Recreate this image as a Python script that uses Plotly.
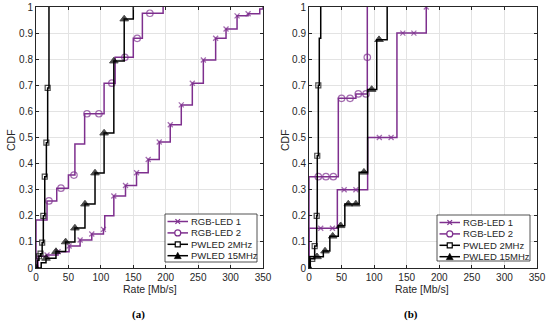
import plotly.graph_objects as go

# ---------------- data ----------------
# Panel (a)
a_rgb1_x = [0, 3, 17, 34, 51, 68, 86, 104, 106, 120, 138, 155, 173, 190, 207, 224, 241, 258, 277, 293, 310, 327, 345, 350]
a_rgb1_y = [0, 0.045, 0.05, 0.062, 0.084, 0.107, 0.13, 0.148, 0.2, 0.276, 0.316, 0.365, 0.416, 0.483, 0.549, 0.625, 0.708, 0.797, 0.88, 0.916, 0.966, 0.974, 0.992, 1.0]
a_rgb2_x = [0, 0, 17, 20, 32, 38.5, 50, 58.5, 60, 75, 78.6, 97, 105, 117, 122, 137, 150, 156, 164, 175.6, 196]
a_rgb2_y = [0, 0.184, 0.257, 0.257, 0.306, 0.306, 0.356, 0.356, 0.475, 0.591, 0.591, 0.591, 0.708, 0.708, 0.807, 0.807, 0.88, 0.88, 0.976, 0.976, 1.0]
a_pw2_x = [0, 2, 4.6, 7, 9.5, 11.3, 13.5, 16, 18, 20]
a_pw2_y = [0, 0.03, 0.045, 0.055, 0.097, 0.2, 0.35, 0.48, 0.69, 1.0]
a_pw15_x = [0, 8, 15.4, 30.8, 45.7, 60, 75.5, 91, 105, 120, 136, 150]
a_pw15_y = [0, 0.02, 0.037, 0.063, 0.1, 0.153, 0.245, 0.364, 0.517, 0.793, 0.954, 1.0]

# Panel (b)
b_rgb1_x = [0, 0, 18, 36, 43.5, 54, 72, 90, 108, 126, 135, 144, 161, 180]
b_rgb1_y = [0, 0.152, 0.152, 0.152, 0.3, 0.3, 0.3, 0.5, 0.5, 0.5, 0.9, 0.9, 0.9, 1.0]
b_rgb2_x = [0, 0, 14.3, 26, 37.3, 45, 50, 63, 72, 75.7, 87.5, 89.5, 89.5]
b_rgb2_y = [0, 0.35, 0.35, 0.35, 0.35, 0.65, 0.65, 0.65, 0.667, 0.667, 0.667, 0.807, 1.0]
b_pw2_x = [0, 2, 5, 8.7, 11.8, 12.7, 14.3, 15.8, 18]
b_pw2_y = [0, 0.035, 0.035, 0.084, 0.2, 0.43, 0.7, 0.88, 1.0]
b_pw15_x = [0, 1, 12.3, 22, 24.6, 32, 36.4, 45, 48.6, 55, 60.3, 72, 77, 84.3, 90, 96.2, 104, 107.5, 120]
b_pw15_y = [0, 0.043, 0.043, 0.065, 0.065, 0.122, 0.122, 0.162, 0.162, 0.245, 0.245, 0.245, 0.367, 0.367, 0.684, 0.684, 0.875, 0.875, 1.0]

series_names = ["RGB-LED 1", "RGB-LED 2", "PWLED 2MHz", "PWLED 15MHz"]
x_ticks = [0, 50, 100, 150, 200, 250, 300, 350]
y_ticks = [0, 0.1, 0.2, 0.3, 0.4, 0.5, 0.6, 0.7, 0.8, 0.9, 1]
y_tick_labels = ["0", "0.1", "0.2", "0.3", "0.4", "0.5", "0.6", "0.7", "0.8", "0.9", "1"]

# ---------------- style ----------------
PURPLE = "#7E2F8E"
BLACK = "#000000"
TXT = "#262626"
OFF = 0                      # body margin removed by post_script below
W, H = 550 - OFF, 323 - OFF


def px(x):
    return min(1.0, max(0.0, (x - OFF) / W))


def py(y):
    return min(1.0, max(0.0, 1 - (y - OFF) / H))


styles = [
    dict(color=PURPLE, symbol="x-thin-open", size=5, lw=1.3, fill=PURPLE),
    dict(color=PURPLE, symbol="circle-open", size=6.5, lw=1.2, fill=PURPLE),
    dict(color=BLACK, symbol="square-open", size=5, lw=1.2, fill=BLACK),
    dict(color=BLACK, symbol="triangle-up", size=7.5, lw=1, fill=BLACK),
]
# indices of points drawn without a marker (step corners)
unmarked = {
    ("a", 0): {1, 8, 22, 23},
    ("a", 1): {0, 1, 2, 4, 6, 8, 9, 12, 14, 16, 18, 20},
    ("a", 2): {0, 1, 9},
    ("a", 3): {1, 11},
    ("b", 0): {0, 1, 4, 7, 10},
    ("b", 1): {0, 1, 5, 8, 12},
    ("b", 2): {0, 1, 7, 8},
    ("b", 3): {1, 3, 5, 7, 9, 12, 14, 16, 18},
}

panels = {
    "a": [(a_rgb1_x, a_rgb1_y), (a_rgb2_x, a_rgb2_y), (a_pw2_x, a_pw2_y), (a_pw15_x, a_pw15_y)],
    "b": [(b_rgb1_x, b_rgb1_y), (b_rgb2_x, b_rgb2_y), (b_pw2_x, b_pw2_y), (b_pw15_x, b_pw15_y)],
}
axes = {"a": ("x", "y"), "b": ("x2", "y2")}

fig = go.Figure()
for key, data in panels.items():
    xa, ya = axes[key]
    for i, (xs, ys) in enumerate(data):
        st = styles[i]
        sizes = [0 if j in unmarked[(key, i)] else st["size"] for j in range(len(xs))]
        fig.add_trace(go.Scatter(
            x=xs, y=ys, mode="lines+markers", xaxis=xa, yaxis=ya, name=series_names[i],
            line=dict(color=st["color"], width=1.5, shape="hv"),
            marker=dict(symbol=st["symbol"], size=sizes, color=st["fill"],
                        line=dict(color=st["color"], width=st["lw"])),
            showlegend=False, hoverinfo="skip",
        ))

axis_common = dict(
    showline=True, linecolor=TXT, linewidth=1, mirror="ticks",
    ticks="inside", ticklen=3, tickcolor=TXT, tickwidth=1, automargin=False,
    showgrid=True, gridcolor="#e3e3e3", gridwidth=1, zeroline=False,
    ticklabeloverflow="allow",
    tickfont=dict(family="Liberation Sans, Arial, sans-serif", size=10, color=TXT),
)
ydom = [py(268), py(7)]
fig.update_layout(
    width=W, height=H, margin=dict(l=0, r=0, t=0, b=0, autoexpand=False),
    paper_bgcolor="white", plot_bgcolor="white", showlegend=False,
    font=dict(family="Liberation Sans, Arial, sans-serif", color=TXT),
    xaxis=dict(domain=[px(36), px(263)], range=[0, 350], tickvals=x_ticks, anchor="y", **axis_common),
    yaxis=dict(domain=ydom, range=[0, 1], tickvals=y_ticks, ticktext=y_tick_labels, anchor="x", **axis_common),
    xaxis2=dict(domain=[px(309), px(537)], range=[0, 350], tickvals=x_ticks, anchor="y2", **axis_common),
    yaxis2=dict(domain=ydom, range=[0, 1], tickvals=y_ticks, ticktext=y_tick_labels, anchor="x2", **axis_common),
)

# ---------------- legends (drawn as shapes + text, in pixel layout) ----------------
legend_boxes = [(165, 214, 257, 262), (437, 215, 530, 261)]
shapes = []
legend_texts = []
for (bx0, by0, bx1, by1) in legend_boxes:
    shapes.append(dict(type="rect", xref="paper", yref="paper", layer="above",
                       x0=px(bx0), x1=px(bx1), y0=py(by0), y1=py(by1),
                       fillcolor="white", line=dict(color=TXT, width=0.8)))
    for i, name in enumerate(series_names):
        st = styles[i]
        yc = by0 + 7.5 + 11.4 * i
        lx0, lx1 = bx0 + 2.5, bx0 + 23
        mx = (lx0 + lx1) / 2
        shapes.append(dict(type="line", xref="paper", yref="paper", layer="above",
                           x0=px(lx0), x1=px(lx1), y0=py(yc), y1=py(yc),
                           line=dict(color=st["color"], width=1.5)))
        if i == 0:
            r = 2.3
            for s in (1, -1):
                shapes.append(dict(type="line", xref="paper", yref="paper", layer="above",
                                   x0=px(mx - r), x1=px(mx + r), y0=py(yc - s * r), y1=py(yc + s * r),
                                   line=dict(color=st["color"], width=1.2)))
        elif i == 1:
            r = 3
            shapes.append(dict(type="circle", xref="paper", yref="paper", layer="above",
                               x0=px(mx - r), x1=px(mx + r), y0=py(yc - r), y1=py(yc + r),
                               fillcolor="white", line=dict(color=st["color"], width=1.2)))
        elif i == 2:
            r = 2.5
            shapes.append(dict(type="rect", xref="paper", yref="paper", layer="above",
                               x0=px(mx - r), x1=px(mx + r), y0=py(yc - r), y1=py(yc + r),
                               fillcolor="white", line=dict(color=st["color"], width=1.2)))
        else:
            path = "M {:.5f},{:.5f} L {:.5f},{:.5f} L {:.5f},{:.5f} Z".format(
                px(mx - 3.5), py(yc + 3), px(mx + 3.5), py(yc + 3), px(mx), py(yc - 3.5))
            shapes.append(dict(type="path", xref="paper", yref="paper", layer="above",
                               path=path, fillcolor=BLACK, line=dict(color=BLACK, width=0.5)))
        legend_texts.append(dict(text=name, x=px(bx0 + 25), y=py(yc), xanchor="left",
                                 font=dict(family="Liberation Sans, Arial, sans-serif", size=9.5, color=TXT)))
fig.update_layout(shapes=shapes)

ann_font = dict(family="Liberation Sans, Arial, sans-serif", size=10.5, color=TXT)
cap_font = dict(family="Liberation Serif, Times New Roman, serif", size=11, color="black")
annotations = [
    dict(text="CDF", x=px(11), y=py(140), textangle=-90, font=ann_font, xanchor="center"),
    dict(text="CDF", x=px(285), y=py(140), textangle=-90, font=ann_font, xanchor="center"),
    dict(text="Rate [Mb/s]", x=px(150), y=py(289), font=ann_font, xanchor="center"),
    dict(text="Rate [Mb/s]", x=px(422), y=py(289), font=ann_font, xanchor="center"),
    dict(text="<b>(a)</b>", x=px(138), y=py(314), font=cap_font, xanchor="center"),
    dict(text="<b>(b)</b>", x=px(411), y=py(314), font=cap_font, xanchor="center"),
] + legend_texts
for a in annotations:
    fig.add_annotation(xref="paper", yref="paper", showarrow=False,
                       yanchor="middle", borderpad=0, **a)

fig.write_html("out.html", config={"displayModeBar": False},
               post_script="document.body.style.margin='0';")
